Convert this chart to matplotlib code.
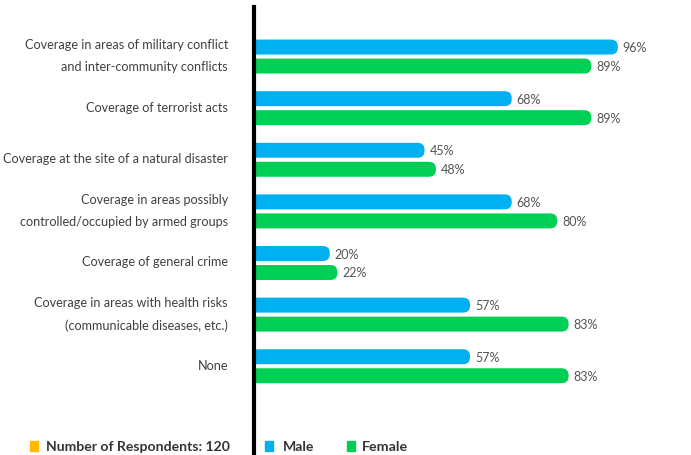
import matplotlib.pyplot as plt
import numpy as np
from matplotlib.patches import FancyBboxPatch, Rectangle

plt.rcParams['font.family'] = ['Lato', 'DejaVu Sans']

categories = [
    "Coverage in areas of military conflict\nand inter-community conflicts",
    "Coverage of terrorist acts",
    "Coverage at the site of a natural disaster",
    "Coverage in areas possibly\ncontrolled/occupied by armed groups",
    "Coverage of general crime",
    "Coverage in areas with health risks\n(communicable diseases, etc.)",
    "None",
]
male = [96, 68, 45, 68, 20, 57, 57]
female = [89, 89, 48, 80, 22, 83, 83]
respondents_note = "Number of Respondents: 120"

BLUE = '#00B0F0'
GREEN = '#00CF55'
ORANGE = '#FFB900'
W, H = 691, 456

fig = plt.figure(figsize=(W / 100, H / 100), dpi=100)
ax = fig.add_axes([254 / W, 0, (W - 254) / W, 448 / H])
ax.set_xlim(0, 115.3)
ax.set_ylim(7.72, -0.96)

y = np.arange(len(categories))
off, bh = 0.184, 0.29
bars_m = ax.barh(y - off, male, height=bh, color=BLUE)
bars_f = ax.barh(y + off, female, height=bh, color=GREEN)

# swap the plain rectangles for bars with a rounded right end
px_x = ax.bbox.width / np.diff(ax.get_xlim())[0]
px_y = ax.bbox.height / abs(np.diff(ax.get_ylim())[0])
r = 7.0 / px_x
for bars in (bars_m, bars_f):
    for p in bars.patches:
        x0, y0 = p.get_xy()
        fb = FancyBboxPatch((x0 - 3, y0), p.get_width() + 3, p.get_height(),
                            boxstyle=f"round,pad=0,rounding_size={r}",
                            mutation_aspect=px_x / px_y,
                            fc=p.get_facecolor(), ec='none')
        p.set_visible(False)
        ax.add_patch(fb)

for yy, v in zip(y - off, male):
    ax.text(v + 1.3, yy, f"{v}%", va='center', ha='left', fontsize=9, color='#555555')
for yy, v in zip(y + off, female):
    ax.text(v + 1.3, yy, f"{v}%", va='center', ha='left', fontsize=9, color='#555555')

# category labels, right aligned a little left of the axis line
ax.set_yticks([])
for yy, lab in zip(y, categories):
    ax.text(-26 / ax.bbox.width, yy - 1.5 / px_y, lab, transform=ax.get_yaxis_transform(),
            ha='right', va='center', ma='right', fontsize=9.1, color='#404040',
            linespacing=2.0)
ax.set_xticks([])
for s in ('top', 'right', 'bottom'):
    ax.spines[s].set_visible(False)
ax.spines['left'].set_linewidth(3)
ax.spines['left'].set_color('black')

# legend row along the bottom
ly = 9 / H
for x0, col in ((30, ORANGE), (265, BLUE), (347, GREEN)):
    fig.add_artist(Rectangle((x0 / W, ly - 5 / H), 8 / W, 10 / H,
                             transform=fig.transFigure, color=col))
fig.text(46 / W, ly, respondents_note, va='center', ha='left',
         fontsize=10.1, fontweight='bold', color='#333333')
fig.text(283 / W, ly, "Male", va='center', ha='left',
         fontsize=10.1, fontweight='bold', color='#333333')
fig.text(362 / W, ly, "Female", va='center', ha='left',
         fontsize=10.3, fontweight='bold', color='#333333')

fig.savefig('out.png', dpi=100)
